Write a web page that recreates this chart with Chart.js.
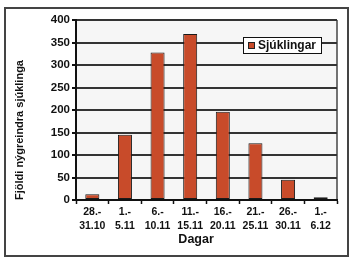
<!DOCTYPE html>
<html>
<head>
<meta charset="utf-8">
<script src="https://cdn.jsdelivr.net/npm/chart.js@4/dist/chart.umd.min.js"></script>
<style>
  html, body { margin: 0; padding: 0; background: #fff; }
  #wrap { width: 360px; height: 266px; position: relative; }
</style>
</head>
<body>
<div id="wrap"><canvas id="c" width="360" height="266"></canvas></div>
<script>
// data
var periods = [["28.-", "31.10"], ["1.-", "5.11"], ["6.-", "10.11"], ["11.-", "15.11"],
               ["16.-", "20.11"], ["21.-", "25.11"], ["26.-", "30.11"], ["1.-", "6.12"]];
var patients = [13, 145, 328, 369, 196, 126, 45, 6];
var seriesName = "Sjúklingar";
var yTitle = "Fjöldi nýgreindra sjúklinga";
var xTitle = "Dagar";

var barColor = "#c84b2a";
var fontFamily = "'Liberation Sans', Arial, sans-serif";

// outer frame + plot background
var framePlugin = {
    id: 'frame',
    beforeDraw: function(chart) {
        var ctx = chart.ctx, a = chart.chartArea;
        ctx.save();
        ctx.fillStyle = '#fff';
        ctx.fillRect(0, 0, chart.width, chart.height);
        ctx.strokeStyle = '#444';
        ctx.lineWidth = 2;
        ctx.strokeRect(5, 8, 343, 248);
        ctx.fillStyle = '#f6f6f6';
        ctx.fillRect(a.left, a.top, a.right - a.left, a.bottom - a.top);
        ctx.strokeStyle = '#444';
        ctx.lineWidth = 1.5;
        ctx.beginPath();
        ctx.moveTo(a.right, a.top);
        ctx.lineTo(a.right, a.bottom);
        ctx.stroke();
        ctx.restore();
    }
};

// boxed legend inside the plot, top right
var boxLegend = {
    id: 'boxLegend',
    afterDraw: function(chart) {
        var ctx = chart.ctx;
        var ds = chart.data.datasets[0];
        var x = 243, y = 37, w = 78, h = 16;
        ctx.save();
        ctx.fillStyle = '#fff';
        ctx.fillRect(x, y, w, h);
        ctx.strokeStyle = '#111';
        ctx.lineWidth = 1;
        ctx.strokeRect(x + 0.5, y + 0.5, w, h);
        ctx.fillStyle = ds.backgroundColor;
        ctx.fillRect(x + 5.5, y + 5.5, 6, 6);
        ctx.strokeStyle = '#222';
        ctx.strokeRect(x + 5.5, y + 5.5, 6, 6);
        ctx.fillStyle = '#111';
        ctx.font = 'bold 12px ' + fontFamily;
        ctx.textBaseline = 'middle';
        ctx.fillText(ds.label, x + 15, y + h / 2 + 1);
        ctx.restore();
    }
};

new Chart(document.getElementById('c'), {
    type: 'bar',
    data: {
        labels: periods,
        datasets: [{
            label: seriesName,
            data: patients,
            backgroundColor: barColor,
            borderColor: '#1a1a1a',
            borderWidth: 1,
            borderSkipped: false,
            categoryPercentage: 1,
            barPercentage: 0.43
        }]
    },
    options: {
        responsive: false,
        animation: false,
        devicePixelRatio: 1,
        layout: { padding: { left: 0, top: 20, right: 23, bottom: 0 } },
        plugins: {
            legend: { display: false },
            tooltip: { enabled: false }
        },
        scales: {
            x: {
                grid: {
                    offset: true,
                    drawOnChartArea: false,
                    drawTicks: true,
                    tickLength: 4,
                    tickColor: '#111',
                    tickWidth: 1.5
                },
                border: { color: '#111', width: 2 },
                ticks: {
                    color: '#111',
                    padding: 1,
                    maxRotation: 0,
                    autoSkip: false,
                    font: { family: fontFamily, size: 10.5, weight: 'bold', lineHeight: 1.35 }
                },
                title: {
                    display: true,
                    text: xTitle + '      ',
                    color: '#111',
                    font: { family: fontFamily, size: 12.5, weight: 'bold', lineHeight: 1.2 },
                    padding: { top: 0, bottom: 18.5 }
                },
                afterFit: function(s) { s.height = 66; }
            },
            y: {
                min: 0,
                max: 400,
                ticks: {
                    stepSize: 50,
                    color: '#111',
                    padding: 2,
                    font: { family: fontFamily, size: 11.5, weight: 'bold' }
                },
                grid: {
                    color: '#333333',
                    lineWidth: 2,
                    drawTicks: true,
                    tickLength: 4,
                    tickColor: '#111'
                },
                border: { color: '#111', width: 2 },
                title: {
                    display: true,
                    text: yTitle,
                    align: 'start',
                    color: '#111',
                    font: { family: fontFamily, size: 11, weight: 'bold', lineHeight: 1.2 },
                    padding: { top: 13.4, bottom: 0 }
                },
                afterFit: function(s) { s.width = 76; }
            }
        }
    },
    plugins: [framePlugin, boxLegend]
});
</script>
</body>
</html>
